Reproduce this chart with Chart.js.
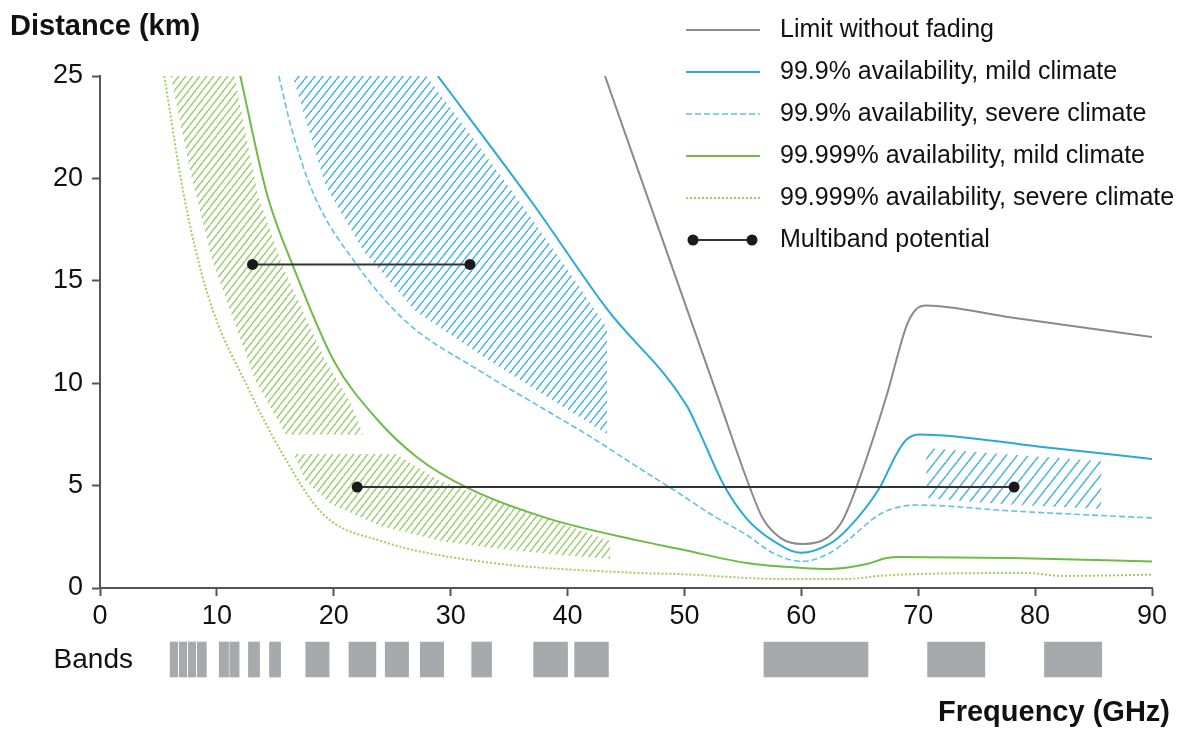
<!DOCTYPE html>
<html><head><meta charset="utf-8">
<script src="https://cdn.jsdelivr.net/npm/chart.js@4/dist/chart.umd.min.js"></script>
<style>
html,body{margin:0;padding:0;background:#fff;}
#wrap{position:relative;width:1192px;height:729px;overflow:hidden;background:#fff;}
#main{position:absolute;left:0;top:0;}
#bands{position:absolute;left:0;top:638px;}
</style></head><body>
<div id="wrap"><canvas id="main" width="1192" height="638"></canvas><canvas id="bands" width="1192" height="91"></canvas></div>
<script>
// ---------- DATA ----------
const freqTicks = [0,10,20,30,40,50,60,70,80,90];
const distanceTicks = [0,5,10,15,20,25];
const seriesLabels = ['Limit without fading','99.9% availability, mild climate','99.9% availability, severe climate','99.999% availability, mild climate','99.999% availability, severe climate','Multiband potential'];

const limitNoFading = [[43.2,25],[53.0,9.1],[55.6,4.9],[56.7,3.4],[58.2,2.45],[60.1,2.15],[62.2,2.45],[63.5,3.27],[64.7,4.9],[67.3,9.4],[69.0,12.8],[69.8,13.6],[70.7,13.8],[77.5,13.25],[90,12.25]];
const avail999Mild = [[28.9,25],[37.06,18.75],[43.4,13.6],[50.2,8.9],[51.3,7.6],[53.3,5.1],[55.3,3.4],[57.6,2.3],[60.0,1.72],[62.4,2.15],[63.9,2.85],[66.7,4.9],[68.1,6.5],[69.0,7.25],[70.1,7.5],[80.4,6.9],[90,6.3]];
const avail999Severe = [[15.3,25],[16.4,22.4],[18.3,19.2],[21.95,15.8],[26.2,13.0],[32.5,10.6],[37.5,8.9],[42.2,7.3],[46.0,5.9],[49.6,4.6],[52.4,3.55],[55.3,2.6],[57.6,1.7],[60.1,1.3],[62.4,1.7],[63.9,2.3],[66.7,3.6],[68.3,3.95],[69.9,4.05],[78.0,3.76],[90,3.42]];
const avail99999Mild = [[12.0,25],[14.3,19.2],[16.6,15.6],[20.0,11.1],[23.6,8.3],[27.2,6.35],[31.4,4.9],[38.3,3.4],[46.2,2.3],[49.6,1.9],[55.3,1.22],[60.1,0.98],[62.4,0.93],[65.6,1.17],[67.3,1.46],[68.4,1.51],[78.0,1.46],[90,1.3]];
const avail99999Severe = [[5.5,25],[7.17,19.2],[9.2,14.35],[12.9,9.5],[15.46,6.7],[19.1,3.6],[24.0,2.3],[32.5,1.3],[46.2,0.73],[49.6,0.68],[58.2,0.44],[63.9,0.44],[66.7,0.59],[69.9,0.68],[79.5,0.73],[82.3,0.59],[90,0.65]];
const multibandA = [[13.05,15.8],[31.65,15.8]];
const multibandB = [[22.0,4.93],[78.2,4.93]];

const hatchGreenUpper = [[6.06,25],[11.5,25],[13.5,19.2],[15.7,15.6],[19.3,11.1],[21.4,9.1],[22.5,7.5],[15.9,7.5],[13.3,10.1],[9.6,16.0],[7.7,20.4]];
const hatchGreenLower = [[16.57,6.54],[25.28,6.54],[29.12,5.22],[34.24,4.15],[39.37,3.17],[43.63,2.29],[43.63,1.42],[39.37,1.61],[34.24,1.9],[29.12,2.29],[23.99,3.03],[19.73,4.1],[17.59,5.22]];
const hatchBlueUpper = [[16.48,25],[27.92,25],[32.11,21.83],[36.04,18.75],[39.79,15.72],[43.38,12.7],[43.38,7.52],[39.37,8.94],[32.96,11.23],[26.98,13.53],[22.54,16.46],[19.3,19.63]];
const hatchBlueLower = [[70.7,6.84],[76.9,6.55],[85.65,6.2],[85.65,3.86],[76.9,4.1],[70.7,4.39]];

const bandLabel = 'Bands';
const bandStart = [6.0,6.79,7.56,8.33,10.2,11.1,12.7,14.5,17.6,21.3,24.4,27.4,31.8,37.1,40.6,56.8,70.8,80.8];
const bandEnd   = [6.65,7.42,8.19,9.1,11.0,11.9,13.65,15.45,19.6,23.6,26.4,29.4,33.5,40.0,43.5,65.7,75.7,85.7];

// ---------- STYLE ----------
const FAMILY = "'Liberation Sans', Arial, Helvetica, sans-serif";
Chart.defaults.font.family = FAMILY;
const TXT = '#111';
const AXIS = '#555';
const C_GRAY = '#8a8a8a', C_BLUE = '#28a9da', C_BLUE2 = '#62c0e4', C_GREEN = '#6fbb45', C_GREEN2 = '#9fcf5c';

function hatch(color, w, h, lw) {
  const c = document.createElement('canvas');
  c.width = w; c.height = h;
  const g = c.getContext('2d');
  g.strokeStyle = color; g.lineWidth = lw; g.lineCap = 'butt';
  for (const off of [-w, 0, w]) {
    g.beginPath(); g.moveTo(off, h); g.lineTo(off + w, 0); g.stroke();
  }
  return g.createPattern(c, 'repeat');
}
const patBlue = hatch('#52b7df', 8, 10, 1.5);
const patBlueWide = hatch('#52b7df', 11, 14, 1.6);
const patGreen = hatch('#9dcd72', 7, 9, 1.4);

const pts = a => a.map(([x, y]) => ({x, y}));

function curve(label, arr, color, width, dash) {
  return {label, data: pts(arr), borderColor: color, borderWidth: width, borderDash: dash,
    pointRadius: 0, fill: false, cubicInterpolationMode: 'monotone', order: 1};
}
function area(arr, pattern) {
  return {label: '', data: pts(arr), borderColor: 'rgba(0,0,0,0)', borderWidth: 0, backgroundColor: pattern,
    pointRadius: 0, fill: 'shape', tension: 0, order: 10};
}
function multi(arr) {
  return {label: seriesLabels[5], data: pts(arr), borderColor: '#333', borderWidth: 2, tension: 0,
    pointRadius: 5.5, pointBackgroundColor: '#1a1a1a', pointBorderWidth: 0, fill: false, order: 0, clip: false};
}

const datasets = [
  multi(multibandA), multi(multibandB),
  curve(seriesLabels[0], limitNoFading, C_GRAY, 2, []),
  curve(seriesLabels[1], avail999Mild, C_BLUE, 2, []),
  curve(seriesLabels[2], avail999Severe, C_BLUE2, 1.6, [6, 3]),
  curve(seriesLabels[3], avail99999Mild, C_GREEN, 2, []),
  curve(seriesLabels[4], avail99999Severe, C_GREEN2, 2, [2, 2]),
  area(hatchBlueUpper, patBlue), area(hatchBlueLower, patBlueWide),
  area(hatchGreenUpper, patGreen), area(hatchGreenLower, patGreen)
];

const legendPlugin = {
  id: 'overlayLegend',
  afterDraw(chart) {
    const ctx = chart.ctx;
    const styles = [
      {c: C_GRAY, w: 2, d: []}, {c: C_BLUE, w: 2, d: []}, {c: C_BLUE2, w: 1.6, d: [6, 3]},
      {c: C_GREEN, w: 2, d: []}, {c: C_GREEN2, w: 2, d: [2, 2]}, null];
    ctx.save();
    seriesLabels.forEach((lab, i) => {
      const y = 30 + i * 42;
      const s = styles[i];
      if (s) {
        ctx.strokeStyle = s.c; ctx.lineWidth = s.w; ctx.setLineDash(s.d);
        ctx.beginPath(); ctx.moveTo(686, y); ctx.lineTo(760, y); ctx.stroke();
      } else {
        ctx.setLineDash([]); ctx.strokeStyle = '#333'; ctx.lineWidth = 2;
        ctx.beginPath(); ctx.moveTo(693, y); ctx.lineTo(752, y); ctx.stroke();
        ctx.fillStyle = '#1a1a1a';
        for (const px of [693, 752]) { ctx.beginPath(); ctx.arc(px, y, 5.5, 0, Math.PI * 2); ctx.fill(); }
      }
      ctx.setLineDash([]);
      ctx.fillStyle = TXT; ctx.font = '25px ' + FAMILY;
      ctx.textAlign = 'left'; ctx.textBaseline = 'middle';
      ctx.fillText(lab, 780, y);
    });
    ctx.restore();
  }
};

const axisCommon = (ticksArr) => ({
  type: 'linear',
  afterBuildTicks: s => { s.ticks = ticksArr.map(v => ({value: v})); },
  ticks: {font: {size: 27}, color: TXT, maxRotation: 0, autoSkip: false},
  grid: {display: true, drawOnChartArea: false, drawTicks: true, tickLength: 8, tickColor: AXIS, tickWidth: 2},
  border: {display: true, color: AXIS, width: 2}
});

const xAxis = Object.assign(axisCommon(freqTicks), {min: 0, max: 90, afterFit: s => { s.height = 50; }});
xAxis.ticks = Object.assign({}, xAxis.ticks, {padding: 4});
const yAxis = Object.assign(axisCommon(distanceTicks), {min: 0, max: 25, afterFit: s => { s.width = 90; }});
yAxis.ticks = Object.assign({}, yAxis.ticks, {padding: 9});

new Chart(document.getElementById('main'), {
  type: 'line',
  data: {datasets},
  options: {
    responsive: false, animation: false, devicePixelRatio: 1,
    layout: {padding: {left: 10, right: 40, top: 0, bottom: 0}},
    scales: {x: xAxis, y: yAxis},
    plugins: {
      legend: {display: false}, tooltip: {enabled: false},
      title: {display: true, text: 'Distance (km)', align: 'start', color: TXT,
        font: {size: 29, weight: 'bold'}, padding: {top: 9.6, bottom: 31.6}}
    }
  },
  plugins: [legendPlugin]
});

const bandTextPlugin = {
  id: 'bandText',
  afterDraw(chart) {
    const ctx = chart.ctx;
    const yMid = chart.scales.y.getPixelForValue(0);
    ctx.save();
    ctx.fillStyle = TXT;
    ctx.font = '28px ' + FAMILY;
    ctx.textAlign = 'right'; ctx.textBaseline = 'middle';
    ctx.fillText(bandLabel, 133, yMid + 1);
    ctx.font = 'bold 29px ' + FAMILY;
    ctx.fillText('Frequency (GHz)', 1170, 75);
    ctx.restore();
  }
};

new Chart(document.getElementById('bands'), {
  type: 'bar',
  data: {
    labels: [bandLabel],
    datasets: [{
      data: bandStart.map((s, i) => ({y: bandLabel, x: [s, bandEnd[i]]})),
      backgroundColor: '#a7a9ac', borderWidth: 0, barThickness: 35
    }]
  },
  options: {
    indexAxis: 'y', responsive: false, animation: false, devicePixelRatio: 1,
    layout: {padding: {left: 10, right: 40, top: 0, bottom: 48}},
    scales: {
      x: {type: 'linear', min: 0, max: 90, display: false},
      y: {type: 'category', grid: {display: false, drawTicks: false}, border: {display: false},
        ticks: {display: false},
        afterFit: s => { s.width = 90; }}
    },
    plugins: {legend: {display: false}, tooltip: {enabled: false}}
  },
  plugins: [bandTextPlugin]
});
</script>
</body></html>
